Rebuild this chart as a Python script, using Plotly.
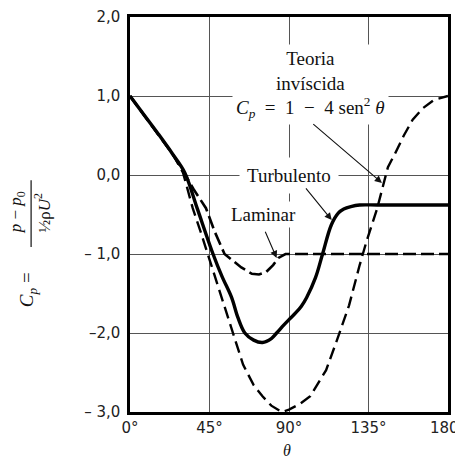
import plotly.graph_objects as go

# ---------------- data ----------------
theta_inv = [0, 8, 16, 24, 30, 35.5, 40, 44, 50, 55, 58, 64, 70, 75, 80, 86, 90, 96, 102,
             111, 117, 124, 130, 134, 139.7, 142.6, 146, 150, 155, 160, 166, 172, 180]
cp_inv = [1.0, 0.76, 0.52, 0.27, 0.03, -0.42, -0.72, -1.0, -1.45, -1.78, -2.0, -2.4, -2.66,
          -2.8, -2.92, -3.0, -2.97, -2.9, -2.8, -2.47, -2.1, -1.65, -1.14, -0.83, -0.44,
          -0.19, 0.1, 0.27, 0.5, 0.7, 0.85, 0.95, 1.0]

theta_turb = [0, 8, 16, 24, 31, 38, 47, 52, 57.5, 61, 65, 70, 75, 80, 83, 87, 90, 94, 97,
              100, 105, 109, 114, 118, 121, 125, 130, 140, 160, 180]
cp_turb = [1.0, 0.76, 0.52, 0.27, 0.03, -0.42, -1.0, -1.28, -1.55, -1.8, -2.0, -2.09, -2.12,
           -2.07, -2.0, -1.9, -1.83, -1.74, -1.66, -1.55, -1.3, -1.0, -0.63, -0.48, -0.43,
           -0.4, -0.38, -0.38, -0.38, -0.38]

theta_lam = [0, 8, 16, 24, 30, 36, 43, 48, 53.5, 59, 63, 69, 73, 77, 81, 84, 88, 120, 150, 180]
cp_lam = [1.0, 0.76, 0.52, 0.27, 0.05, -0.18, -0.42, -0.72, -1.0, -1.1, -1.17, -1.25, -1.26,
          -1.23, -1.14, -1.05, -1.0, -1.0, -1.0, -1.0]

x_tickvals = [0, 45, 90, 135, 180]
x_ticktext = ["0°", "45°", "90°", "135°", "180°"]
y_tickvals = [2, 1, 0, -1, -2, -3]
y_ticktext = ["2,0", "1,0", "0,0", "– 1,0", "–2,0", "– 3,0"]

label_teoria = ("Teoria<br>invíscida<br><i>C<sub>p</sub></i>&nbsp; = &nbsp;1 &nbsp;− &nbsp;4 sen<sup>2</sup> <i>θ</i>")
label_turb = "Turbulento"
label_lam = "Laminar"

# ---------------- figure ----------------
fig = go.Figure()
fig.add_trace(go.Scatter(x=theta_inv, y=cp_inv, mode="lines",
                         line=dict(color="black", width=2.4, dash="12px,6px"),
                         hoverinfo="skip", showlegend=False))
fig.add_trace(go.Scatter(x=theta_lam, y=cp_lam, mode="lines",
                         line=dict(color="black", width=2.6, dash="13px,5px"),
                         hoverinfo="skip", showlegend=False))
fig.add_trace(go.Scatter(x=theta_turb, y=cp_turb, mode="lines", line_shape="spline",
                         line=dict(color="black", width=3.4),
                         hoverinfo="skip", showlegend=False))

serif = "Liberation Serif, Times New Roman, serif"
ann = []
ann.append(dict(x=102.3, y=1.15, xref="x", yref="y", text=label_teoria, showarrow=False,
                font=dict(family=serif, size=19, color="#111"), align="center",
                bgcolor="white", borderpad=3, xanchor="center", yanchor="middle"))
ann.append(dict(x=90, y=0.0, xref="x", yref="y", text=label_turb, showarrow=False,
                font=dict(family=serif, size=19, color="#111"),
                bgcolor="white", borderpad=7, xanchor="center", yanchor="middle"))
ann.append(dict(x=75.4, y=-0.5, xref="x", yref="y", text=label_lam, showarrow=False,
                font=dict(family=serif, size=19, color="#111"),
                bgcolor="white", borderpad=2, xanchor="center", yanchor="middle"))
# arrows
for tip, tail in [((142.6, -0.10), (102.9, 0.66)),
                  ((114.2, -0.57), (98.9, -0.15)),
                  ((83.0, -1.05), (76.2, -0.70))]:
    ann.append(dict(x=tip[0], y=tip[1], ax=tail[0], ay=tail[1], xref="x", yref="y",
                    axref="x", ayref="y", text="", showarrow=True, arrowhead=2,
                    arrowsize=1.3, arrowwidth=1.1, arrowcolor="#111"))
# y-axis title pieces (rotated)
ann.append(dict(x=-0.322, y=0.31, xref="paper", yref="paper", textangle=-90,
                text="<i>C<sub>p</sub></i> =", showarrow=False,
                font=dict(family=serif, size=19, color="#111"),
                xanchor="center", yanchor="middle"))
ann.append(dict(x=-0.356, y=0.505, xref="paper", yref="paper", textangle=-90,
                text="<i>p</i> − <i>p</i><sub>0</sub>", showarrow=False,
                font=dict(family=serif, size=17, color="#111"),
                xanchor="center", yanchor="middle"))
ann.append(dict(x=-0.277, y=0.505, xref="paper", yref="paper", textangle=-90,
                text="½ρ<i>U</i><sup>2</sup>", showarrow=False,
                font=dict(family=serif, size=17, color="#111"),
                xanchor="center", yanchor="middle"))
# x-axis title
ann.append(dict(x=89, y=-0.097, xref="x", yref="paper", text="<i>θ</i>", showarrow=False,
                font=dict(family=serif, size=16, color="#111"),
                xanchor="center", yanchor="middle"))

shapes = [dict(type="line", xref="paper", yref="paper", x0=-0.311, x1=-0.311,
               y0=0.418, y1=0.587, line=dict(color="#111", width=1.2))]

# the page body has an 8px default margin: the figure is sized/margined so the
# plot area lands at the reference position within the 463x457 window
fig.update_layout(
    width=455, height=449,
    margin=dict(l=122, r=15, t=9, b=45),
    paper_bgcolor="white", plot_bgcolor="white",
    annotations=ann, shapes=shapes,
    xaxis=dict(range=[0, 180], tickvals=x_tickvals, ticktext=x_ticktext,
               showgrid=True, gridcolor="#555", gridwidth=1.2,
               showline=True, mirror=True, linecolor="black", linewidth=2.5,
               ticks="", zeroline=False, automargin=False, ticklabeloverflow="allow",
               tickfont=dict(family="DejaVu Sans", size=15, color="#222")),
    yaxis=dict(range=[-3, 2], tickvals=y_tickvals, ticktext=y_ticktext,
               showgrid=True, gridcolor="#555", gridwidth=1.2,
               showline=True, mirror=True, linecolor="black", linewidth=2.5,
               ticks="", zeroline=False, automargin=False, ticklabelstandoff=4,
               tickfont=dict(family="DejaVu Sans", size=15, color="#222")),
)

fig.write_html("out.html")
